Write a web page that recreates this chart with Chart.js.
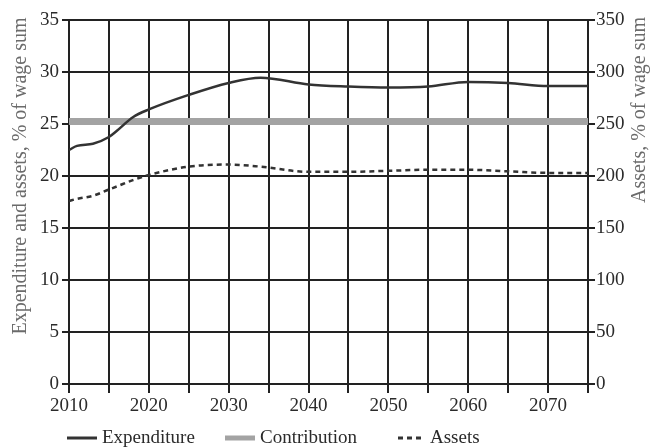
<!DOCTYPE html>
<html>
<head>
<meta charset="utf-8">
<script src="https://cdn.jsdelivr.net/npm/chart.js@4/dist/chart.umd.min.js"></script>
<style>
  html, body { margin: 0; padding: 0; background: #fff; }
  #chart { display: block; }
</style>
</head>
<body>
<canvas id="chart" width="652" height="448"></canvas>
<script>
// Data
const years = [2010, 2011, 2013, 2015, 2016, 2018, 2020, 2025, 2030, 2034, 2040, 2045, 2050, 2055, 2060, 2065, 2070, 2075];
const expenditure = [22.5, 22.9, 23.1, 23.75, 24.35, 25.65, 26.4, 27.8, 28.95, 29.45, 28.8, 28.6, 28.5, 28.6, 29.05, 28.95, 28.65, 28.65];
const assets = [176, 178, 181, 187, 190, 196, 201, 209, 211, 209, 204, 204, 205, 206, 206, 204.5, 203, 203];
const contribYears = [2010, 2075];
const contribution = [25.25, 25.25];

const leftTitle = "Expenditure and assets, % of wage sum";
const rightTitle = "Assets, % of wage sum";
const legendNames = ["Expenditure", "Contribution", "Assets"];

const serif = "'Liberation Serif', 'Times New Roman', serif";
const ink = "#2b2b2b";

const toPoints = (xs, ys) => xs.map((x, i) => ({ x: x, y: ys[i] }));

// axis titles and legend drawn in their places
const decorations = {
    id: "decorations",
    afterDraw(chart) {
        const ctx = chart.ctx;
        ctx.save();
        ctx.fillStyle = "#6b6b6b";
        ctx.font = "20px " + serif;
        ctx.textAlign = "center";
        ctx.textBaseline = "middle";

        ctx.save();
        ctx.translate(21, 176);
        ctx.rotate(-Math.PI / 2);
        ctx.fillText(leftTitle, 0, 0);
        ctx.restore();

        ctx.save();
        ctx.translate(640, 110);
        ctx.rotate(-Math.PI / 2);
        ctx.fillText(rightTitle, 0, 0);
        ctx.restore();

        // legend
        const items = [
            { ds: chart.data.datasets[0], x: 67, w: 30 },
            { ds: chart.data.datasets[2], x: 225, w: 30 },
            { ds: chart.data.datasets[1], x: 398, w: 27 },
        ];
        const ly = 438;
        ctx.font = "19px " + serif;
        ctx.textAlign = "left";
        ctx.fillStyle = ink;
        items.forEach((it, i) => {
            ctx.save();
            ctx.strokeStyle = it.ds.borderColor;
            ctx.lineWidth = Math.min(it.ds.borderWidth + 0.5, 5);
            ctx.setLineDash(it.ds.borderDash || []);
            ctx.beginPath();
            ctx.moveTo(it.x, ly);
            ctx.lineTo(it.x + it.w, ly);
            ctx.stroke();
            ctx.restore();
            ctx.fillText(legendNames[i], it.x + it.w + 5, ly);
        });
        ctx.restore();
    },
};

new Chart(document.getElementById("chart"), {
    type: "line",
    data: {
        datasets: [
            {
                label: legendNames[0],
                data: toPoints(years, expenditure),
                yAxisID: "y",
                borderColor: "#333333",
                borderWidth: 2.5,
                pointRadius: 0,
                cubicInterpolationMode: "monotone",
            },
            {
                label: legendNames[2],
                data: toPoints(years, assets),
                yAxisID: "y2",
                borderColor: "#333333",
                borderWidth: 2.5,
                borderDash: [5, 4],
                pointRadius: 0,
                cubicInterpolationMode: "monotone",
            },
            {
                label: legendNames[1],
                data: toPoints(contribYears, contribution),
                yAxisID: "y",
                borderColor: "#a3a3a3",
                borderWidth: 7,
                pointRadius: 0,
            },
        ],
    },
    options: {
        responsive: false,
        animation: false,
        layout: { padding: { top: 20, left: 0, right: 0, bottom: 0 } },
        plugins: {
            legend: { display: false },
            tooltip: { enabled: false },
        },
        scales: {
            x: {
                type: "linear",
                min: 2010,
                max: 2075,
                afterFit: (s) => { s.height = 64; },
                grid: { color: "#222", lineWidth: 2, tickLength: 9 },
                border: { display: false },
                ticks: {
                    stepSize: 5,
                    autoSkip: false,
                    maxRotation: 0,
                    padding: 2,
                    color: ink,
                    font: { family: serif, size: 19 },
                    callback: (v) => (v % 10 === 0 ? String(v) : ""),
                },
            },
            y: {
                position: "left",
                min: 0,
                max: 35,
                afterFit: (s) => { s.width = 69; },
                grid: { color: "#222", lineWidth: 2, tickLength: 7 },
                border: { display: false },
                ticks: {
                    stepSize: 5,
                    padding: 3,
                    color: ink,
                    font: { family: serif, size: 19 },
                },
            },
            y2: {
                position: "right",
                min: 0,
                max: 350,
                afterFit: (s) => { s.width = 64; },
                grid: { drawOnChartArea: false, color: "#222", lineWidth: 2, tickLength: 7 },
                border: { display: false },
                ticks: {
                    stepSize: 50,
                    padding: 1,
                    color: ink,
                    font: { family: serif, size: 19 },
                },
            },
        },
    },
    plugins: [decorations],
});
</script>
</body>
</html>
